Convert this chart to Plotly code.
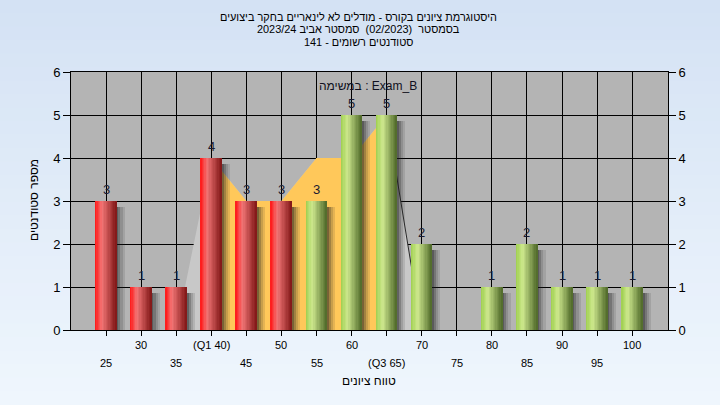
import plotly.graph_objects as go

# ---------------- data ----------------
categories = [25, 30, 35, 40, 45, 50, 55, 60, 65, 70, 75, 80, 85, 90, 95, 100]
counts = [3, 1, 1, 4, 3, 3, 3, 5, 5, 2, 0, 1, 2, 1, 1, 1]
tick_labels = ["25", "30", "35", "(Q1 40)", "45", "50", "55", "60", "(Q3 65)",
               "70", "75", "80", "85", "90", "95", "100"]
pass_mark = 55
band_x = [35, 40, 45, 50, 55, 60, 65, 70]
band_y = [0, 4, 3, 3, 4, 4, 5, 0]
iqr_x = [40, 45, 50, 55, 60, 65]
iqr_y = [4, 3, 3, 4, 4, 5]
edge_x = [65, 70]
edge_y = [5, 0]
title_lines = [
    "היסטוגרמת ציונים בקורס - מודלים לא לינאריים בחקר ביצועים",
    "בסמסטר\u00a0 (02/2023)\u00a0 סמסטר אביב 2023/24",
    "סטודנטים רשומים - 141",
]
subtitle = "במשימה : Exam_B"
x_title = "טווח ציונים"
y_title = "מספר סטודנטים"
y_ticks = [0, 1, 2, 3, 4, 5, 6]

# ---------------- geometry helpers ----------------
W, H = 720, 405
L, R, T, B = 71, 52, 72, 75
PW, PH = W - L - R, H - T - B
XR = [20, 105.1]


def py(p):
    return (H - B - p) / PH


def px(p):
    return (p - L) / PW


FONT = "Liberation Sans, Arial, sans-serif"


def lerp(c1, c2, t):
    return tuple(int(round(a + (b - a) * t)) for a, b in zip(c1, c2))


def grad(stops, t):
    for (t0, c0), (t1, c1) in zip(stops, stops[1:]):
        if t <= t1:
            return lerp(c0, c1, (t - t0) / (t1 - t0))
    return stops[-1][1]


red_stops = [(0, (255, 20, 20)), (0.32, (242, 118, 118)), (1.0, (128, 22, 22))]
green_stops = [(0, (158, 206, 78)), (0.32, (206, 232, 142)), (1.0, (78, 104, 40))]

fig = go.Figure()

# background bands (area series) on the main subplot (drawn beneath the bars)
fig.add_trace(go.Scatter(x=band_x, y=band_y, mode="lines", fill="tozeroy",
                         fillcolor="#C8C8C8", line=dict(width=0),
                         hoverinfo="skip", showlegend=False))
fig.add_trace(go.Scatter(x=iqr_x, y=iqr_y, mode="lines", fill="tozeroy",
                         fillcolor="#FFC85A", line=dict(width=0),
                         hoverinfo="skip", showlegend=False))
fig.add_trace(go.Scatter(x=edge_x, y=edge_y, mode="lines",
                         line=dict(color="#2a2a2a", width=1),
                         hoverinfo="skip", showlegend=False))

BW = 3.0
# shadows (overlay subplot, above the areas)
shadow_h = [max(v - 0.15, 0) for v in counts]
for k, a in enumerate([0.6, 0.42, 0.25, 0.12]):
    fig.add_trace(go.Bar(x=categories, y=shadow_h, width=0.3, yaxis="y2",
                         offset=BW / 2 + k * 0.3 - 0.05,
                         marker=dict(color=f"rgba(30,30,30,{a})", line=dict(width=0)),
                         hoverinfo="skip", showlegend=False))

# cylinder bars drawn as vertical strips
N = 16
sw = BW / N
for j in range(N):
    t = (j + 0.5) / N
    cols = []
    for c in categories:
        stops = green_stops if c >= pass_mark else red_stops
        cols.append("rgb(%d,%d,%d)" % grad(stops, t))
    fig.add_trace(go.Bar(x=categories, y=counts, width=sw * 1.15, yaxis="y2",
                         offset=-BW / 2 + j * sw,
                         marker=dict(color=cols, line=dict(width=0)),
                         hoverinfo="skip", showlegend=False))

shapes = []
# page gradient
NB = 30
y_top, y_bot = py(0), py(H)
for i in range(NB):
    c = lerp((212, 226, 244), (239, 246, 253), i / (NB - 1))
    shapes.append(dict(type="rect", xref="paper", yref="paper",
                       x0=px(0), x1=px(W),
                       y0=y_top - (y_top - y_bot) * i / NB + 0.002,
                       y1=y_top - (y_top - y_bot) * (i + 1) / NB - 0.004,
                       fillcolor="rgb(%d,%d,%d)" % c, line=dict(width=0), layer="below"))
# plot area background
shapes.append(dict(type="rect", xref="x", yref="y", x0=XR[0], x1=XR[1], y0=0, y1=6,
                   fillcolor="#B4B4B4", line=dict(width=0), layer="below"))

annotations = []
for i, line in enumerate(title_lines):
    annotations.append(dict(text=line, xref="paper", yref="paper",
                            x=px(358), y=py(17 + 12.5 * i), showarrow=False,
                            xanchor="center", yanchor="middle",
                            font=dict(family=FONT, size=10.9, color="#000000")))
annotations.append(dict(text=subtitle, xref="paper", yref="paper", x=px(368), y=py(86),
                        showarrow=False, xanchor="center", yanchor="middle",
                        font=dict(family=FONT, size=12, color="#101020")))
# value labels above bars
for c, v in zip(categories, counts):
    if v > 0:
        annotations.append(dict(text=str(v), xref="x", yref="y2", x=c, y=v,
                                showarrow=False, xanchor="center", yanchor="middle",
                                yshift=12,
                                font=dict(family=FONT, size=13, color="#1a1a30")))
for i, (c, lab) in enumerate(zip(categories, tick_labels)):
    row_y = 345 if i % 2 == 1 else 363
    annotations.append(dict(text=lab, xref="x", yref="paper", x=c, y=py(row_y),
                            showarrow=False, xanchor="center", yanchor="middle",
                            font=dict(family=FONT, size=11, color="#000000")))
annotations.append(dict(text=x_title, xref="paper", yref="paper", x=px(369), y=py(381),
                        showarrow=False, xanchor="center", yanchor="middle",
                        font=dict(family=FONT, size=12, color="#000000")))
annotations.append(dict(text=y_title, xref="paper", yref="paper", x=px(34), y=py(200),
                        showarrow=False, xanchor="center", yanchor="middle", textangle=-90,
                        font=dict(family=FONT, size=12, color="#000000")))

fig.update_layout(
    width=W, height=H,
    margin=dict(l=L, r=R, t=T, b=B, pad=0),
    paper_bgcolor="#E2ECF8", plot_bgcolor="rgba(0,0,0,0)",
    barmode="overlay", bargap=0,
    showlegend=False, hovermode=False,
    shapes=shapes, annotations=annotations,
    xaxis=dict(range=XR, tickvals=categories, showticklabels=False,
               ticks="outside", ticklen=5, tickcolor="#000000",
               showgrid=True, gridcolor="#000000", gridwidth=1,
               showline=True, linecolor="#000000", linewidth=1, mirror=True,
               zeroline=False, fixedrange=True),
    yaxis=dict(range=[0, 6], tickvals=y_ticks, ticks="outside", ticklen=7,
               tickcolor="#000000", tickfont=dict(family=FONT, size=13, color="#000000"),
               showgrid=True, gridcolor="#000000", gridwidth=1,
               showline=True, linecolor="#000000", linewidth=1, mirror=True,
               zeroline=False, fixedrange=True),
    yaxis2=dict(range=[0, 6], tickvals=y_ticks, overlaying="y", side="right",
                ticks="outside", ticklen=7, tickcolor="#000000",
                tickfont=dict(family=FONT, size=13, color="#000000"),
                showgrid=False, showline=False, zeroline=False, fixedrange=True),
)

fig.write_html("out.html", config={"displayModeBar": False},
               post_script="document.body.style.margin='0';"
                           "document.body.style.overflow='hidden';")
